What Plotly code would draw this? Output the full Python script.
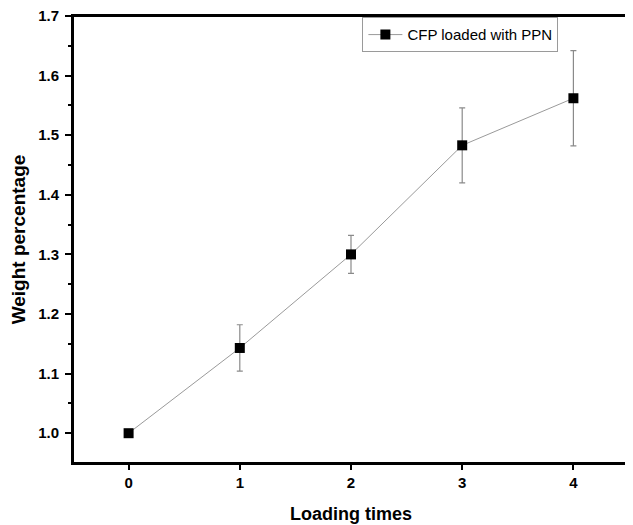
import plotly.graph_objects as go

# Data
loading_times = [0, 1, 2, 3, 4]
weight_pct = [1.000, 1.143, 1.300, 1.483, 1.562]
weight_err = [0.0, 0.039, 0.032, 0.063, 0.080]

fig = go.Figure()

fig.add_trace(go.Scatter(
    x=loading_times,
    y=weight_pct,
    mode='lines+markers',
    name='CFP loaded with PPN',
    line=dict(color='#9a9a9a', width=1),
    marker=dict(symbol='square', size=10, color='black'),
    error_y=dict(type='data', array=weight_err, visible=True,
                 color='#8a8a8a', thickness=1.2, width=3)
))

tick_font = dict(family='Liberation Sans, Arial', size=15, color='black', weight='bold')

# page has an 8px body margin, so the figure is sized to fit the window
fig.update_layout(
    width=625,
    height=517,
    margin=dict(l=65, r=4, t=8, b=62),
    plot_bgcolor='white',
    paper_bgcolor='white',
    showlegend=True,
    legend=dict(
        x=0.873, y=0.997, xanchor='right', yanchor='top',
        bgcolor='white', bordercolor='#9a9a9a', borderwidth=1,
        font=dict(family='Liberation Sans, Arial', size=15, color='black'),
        itemwidth=34, tracegroupgap=0
    ),
    xaxis=dict(
        title=dict(text='Loading times', standoff=17,
                   font=dict(family='Liberation Sans, Arial', size=18, color='black', weight='bold')),
        range=[-0.5, 4.5],
        tickvals=loading_times,
        ticks='outside', ticklen=5, tickwidth=1.5, tickcolor='black',
        tickfont=tick_font, ticklabeloverflow='allow',
        showline=True, linecolor='black', linewidth=2, mirror=True,
        showgrid=False, zeroline=False, automargin=False
    ),
    yaxis=dict(
        title=dict(text='Weight percentage', standoff=10,
                   font=dict(family='Liberation Sans, Arial', size=19, color='black', weight='bold')),
        range=[0.95, 1.7],
        tickvals=[1.0, 1.1, 1.2, 1.3, 1.4, 1.5, 1.6, 1.7],
        tickformat='.1f',
        ticks='outside', ticklen=6, tickwidth=1.5, tickcolor='black',
        tickfont=tick_font, ticklabelstandoff=3, ticklabeloverflow='allow',
        minor=dict(tickvals=[1.05, 1.15, 1.25, 1.35, 1.45, 1.55, 1.65],
                   ticks='outside', ticklen=3, tickwidth=1.5, tickcolor='black'),
        showline=True, linecolor='black', linewidth=2, mirror=True,
        showgrid=False, zeroline=False, automargin=False
    ),
    # closed frame around the plot area
    shapes=[dict(type='rect', xref='paper', yref='paper', x0=0, y0=0, x1=1, y1=1,
                 line=dict(color='black', width=2))]
)

fig.write_html("out.html")
